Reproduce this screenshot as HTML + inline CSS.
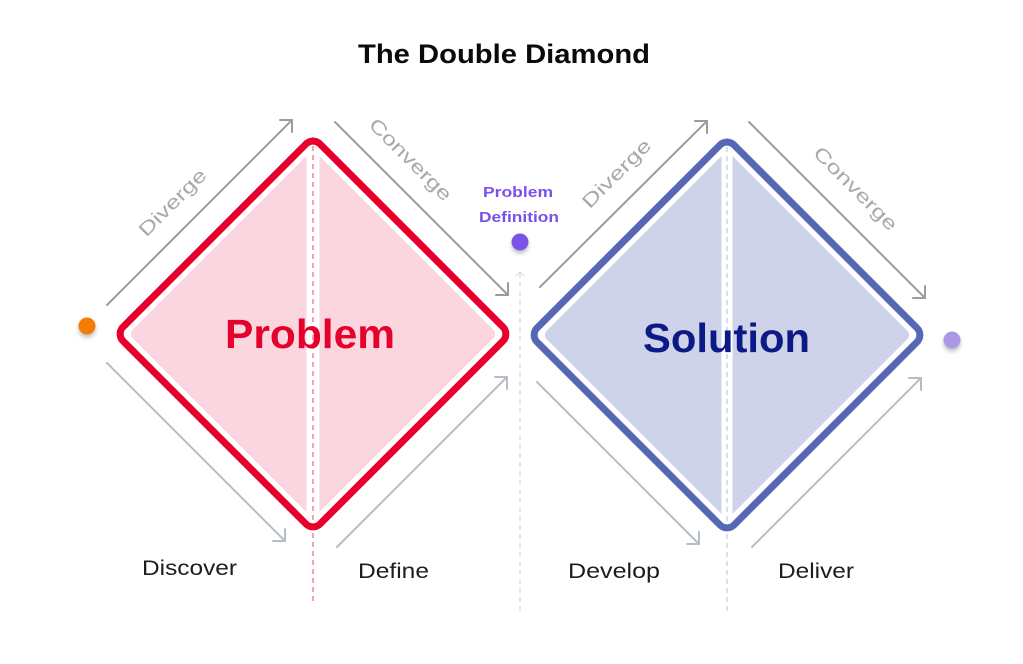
<!DOCTYPE html>
<html>
<head>
<meta charset="utf-8">
<style>
  html, body { margin:0; padding:0; background:#fff; }
  svg { display:block; }
  text { font-family: "Liberation Sans", "DejaVu Sans", sans-serif; }
</style>
</head>
<body>
<svg width="1023" height="664" viewBox="0 0 1023 664" xmlns="http://www.w3.org/2000/svg">
  <defs>
    <filter id="sh" x="-100%" y="-100%" width="300%" height="300%">
      <feDropShadow dx="0" dy="3" stdDeviation="2" flood-color="#000" flood-opacity="0.25"/>
    </filter>
  </defs>
  <rect width="1023" height="664" fill="#fff"/>

  <!-- Title -->
  <text x="358" y="63" font-size="27" font-weight="bold" fill="#0a0a0a" textLength="292" lengthAdjust="spacingAndGlyphs">The Double Diamond</text>

  <!-- gray center dashed line -->
  <line x1="520" y1="273" x2="520" y2="612" stroke="#d6d6d6" stroke-width="1.2" stroke-dasharray="5 4"/>
  <polyline points="516,276 520,272 524,276" fill="none" stroke="#dcdcdc" stroke-width="1.2"/>

  <!-- RED DIAMOND -->
  <g transform="translate(313,334) rotate(45)">
    <rect x="-130.5" y="-130.5" width="261" height="261" rx="6" fill="#fbd6de"/>
  </g>
  <rect x="306.5" y="128" width="13" height="412" fill="#fff"/>
  <line x1="313" y1="137" x2="313" y2="602" stroke="#f0708a" stroke-width="1.3" stroke-dasharray="5 4"/>
  <g transform="translate(313,334) rotate(45)">
    <rect x="-139.3" y="-139.3" width="278.6" height="278.6" rx="10" fill="none" stroke="#e8002d" stroke-width="7"/>
  </g>

  <!-- BLUE DIAMOND -->
  <g transform="translate(727,335) rotate(45)">
    <rect x="-130.5" y="-130.5" width="261" height="261" rx="6" fill="#cfd3e9"/>
  </g>
  <rect x="721.5" y="128" width="11" height="414" fill="#fff"/>
  <line x1="727" y1="138" x2="727" y2="612" stroke="#c6cbe6" stroke-width="1.3" stroke-dasharray="5 4"/>
  <g transform="translate(727,335) rotate(45)">
    <rect x="-139.3" y="-139.3" width="278.6" height="278.6" rx="10" fill="none" stroke="#5667b5" stroke-width="7"/>
  </g>

  <!-- Upper arrows (darker gray) -->
  <g fill="none" stroke="#9c9c9c" stroke-width="2" stroke-linecap="round" stroke-linejoin="round">
    <line x1="107" y1="305" x2="292" y2="120"/>
    <polyline points="280,120 292,120 292,132"/>
    <line x1="335" y1="122" x2="508" y2="295"/>
    <polyline points="496,295 508,295 508,283"/>
    <line x1="540" y1="287" x2="707" y2="121"/>
    <polyline points="695,121 707,121 707,133"/>
    <line x1="749" y1="122" x2="925" y2="298"/>
    <polyline points="913,298 925,298 925,286"/>
  </g>
  <!-- Lower arrows (light bluish gray) -->
  <g fill="none" stroke="#b6bdc5" stroke-width="2" stroke-linecap="round" stroke-linejoin="round">
    <line x1="107" y1="363" x2="285" y2="541"/>
    <polyline points="273,541 285,541 285,529"/>
    <line x1="337" y1="547" x2="507" y2="377"/>
    <polyline points="495,377 507,377 507,389"/>
    <line x1="537" y1="382" x2="699" y2="544"/>
    <polyline points="687,544 699,544 699,532"/>
    <line x1="752" y1="547" x2="921" y2="378"/>
    <polyline points="909,378 921,378 921,390"/>
  </g>

  <!-- Diverge / Converge labels -->
  <g font-size="19" fill="#a9a9a9" text-anchor="middle">
    <text transform="translate(173,203) rotate(-45)" x="0" y="0" dy="0.3em" textLength="87" lengthAdjust="spacingAndGlyphs">Diverge</text>
    <text transform="translate(410,160) rotate(45)" x="0" y="0" dy="0.3em" textLength="108" lengthAdjust="spacingAndGlyphs">Converge</text>
    <text transform="translate(617,174) rotate(-45)" x="0" y="0" dy="0.3em" textLength="89" lengthAdjust="spacingAndGlyphs">Diverge</text>
    <text transform="translate(855,189) rotate(45)" x="0" y="0" dy="0.3em" textLength="110" lengthAdjust="spacingAndGlyphs">Converge</text>
  </g>

  <!-- Main labels -->
  <text x="225" y="348" font-size="41" font-weight="bold" fill="#e6002c" textLength="170" lengthAdjust="spacingAndGlyphs">Problem</text>
  <text x="643" y="352" font-size="41" font-weight="bold" fill="#0b1a86" textLength="167" lengthAdjust="spacingAndGlyphs">Solution</text>

  <!-- Problem Definition -->
  <text x="483" y="197" font-size="15" font-weight="bold" fill="#7a50ec" textLength="70" lengthAdjust="spacingAndGlyphs">Problem</text>
  <text x="479" y="222" font-size="15" font-weight="bold" fill="#7a50ec" textLength="80" lengthAdjust="spacingAndGlyphs">Definition</text>

  <!-- Dots -->
  <circle cx="87" cy="326" r="8.5" fill="#f57c00" filter="url(#sh)"/>
  <circle cx="520" cy="242" r="8.5" fill="#7b55e8" filter="url(#sh)"/>
  <circle cx="952" cy="340" r="8.5" fill="#ac97e4" filter="url(#sh)"/>

  <!-- Bottom labels -->
  <g font-size="21" fill="#1c1c1c">
    <text x="142" y="575" textLength="95" lengthAdjust="spacingAndGlyphs">Discover</text>
    <text x="358" y="578" textLength="71" lengthAdjust="spacingAndGlyphs">Define</text>
    <text x="568" y="578" textLength="92" lengthAdjust="spacingAndGlyphs">Develop</text>
    <text x="778" y="578" textLength="76" lengthAdjust="spacingAndGlyphs">Deliver</text>
  </g>
</svg>
</body>
</html>
